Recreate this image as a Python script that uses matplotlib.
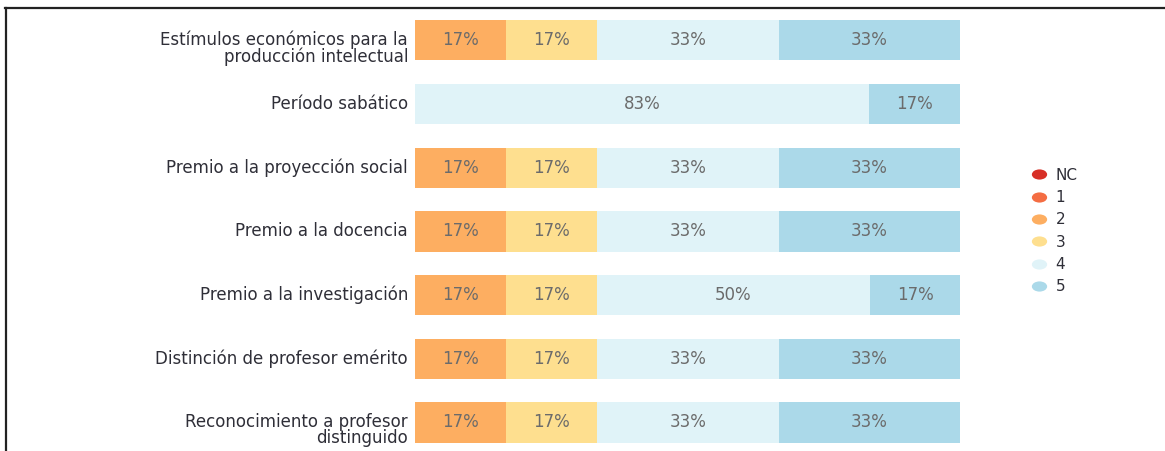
"""Stacked horizontal bars: share of responses per level, one bar per incentive."""
import matplotlib
matplotlib.use("Agg")
import matplotlib.pyplot as plt
from matplotlib.lines import Line2D
from matplotlib.path import Path

CATEGORIES = ["Estímulos económicos para la\nproducción intelectual",
              "Período sabático",
              "Premio a la proyección social",
              "Premio a la docencia",
              "Premio a la investigación",
              "Distinción de profesor emérito",
              "Reconocimiento a profesor\ndistinguido"]
LEVELS = ["NC", "1", "2", "3", "4", "5"]

# percent of answers per level, same order as CATEGORIES
NC = [0, 0, 0, 0, 0, 0, 0]
L1 = [0, 0, 0, 0, 0, 0, 0]
L2 = [16.7, 0, 16.7, 16.7, 16.7, 16.7, 16.7]
L3 = [16.7, 0, 16.7, 16.7, 16.7, 16.7, 16.7]
L4 = [33.3, 83.3, 33.3, 33.3, 50.0, 33.3, 33.3]
L5 = [33.3, 16.7, 33.3, 33.3, 16.7, 33.3, 33.3]

COLORS = ["#d73027", "#f46d43", "#fdae61", "#fedf8f", "#e0f3f8", "#abd9e9"]
FONT = 12
TXT = "#2f2f38"


def main():
    plt.rcParams["font.family"] = ["DejaVu Sans"]
    fig = plt.figure(figsize=(11.65, 4.51), dpi=100)
    ax = fig.add_axes([415 / 1165, -3.3 / 451, 545 / 1165, 445.7 / 451])

    rows = list(range(len(CATEGORIES)))
    left = [0.0] * len(rows)
    for vals, col in zip([NC, L1, L2, L3, L4, L5], COLORS):
        ax.barh(rows, vals, left=left, height=0.63, color=col, edgecolor="none")
        for r, v, l in zip(rows, vals, left):
            if v > 0:
                ax.text(l + v / 2, r, f"{v:.0f}%", ha="center", va="center",
                        fontsize=FONT, color="#6b6b6b")
        left = [a + b for a, b in zip(left, vals)]

    # category names: first line level with the bar, wrapped part hangs below
    ytf = ax.get_yaxis_transform()
    for r, name in zip(rows, CATEGORIES):
        if "\n" in name:
            ax.text(-0.0128, r - 0.15, name, transform=ytf, ha="right", va="top",
                    fontsize=FONT, color=TXT, linespacing=0.85)
        else:
            ax.text(-0.0128, r, name, transform=ytf, ha="right", va="center",
                    fontsize=FONT, color=TXT)

    ax.set_xlim(0, 100)
    ax.set_ylim(6.5, -0.5)
    ax.set_xticks([])
    ax.set_yticks([])
    for s in ax.spines.values():
        s.set_visible(False)

    # wide dot for the legend, like the stretched original
    circ = Path.unit_circle()
    dot = Path(circ.vertices * [1.5, 1.0], circ.codes)
    handles = [Line2D([], [], ls="none", marker=dot, markersize=11,
                      markerfacecolor=c, markeredgecolor="none") for c in COLORS]
    leg = fig.legend(handles, LEVELS, loc="upper left",
                     bbox_to_anchor=(1022 / 1165, 1 - 160 / 451),
                     frameon=False, fontsize=FONT - 1, handlelength=1.2,
                     handletextpad=0.5, labelspacing=0.48, borderpad=0)
    for t in leg.get_texts():
        t.set_color(TXT)

    # frame of the screenshot
    fig.add_artist(Line2D([5 / 1165, 1], [1 - 8 / 451] * 2, color="#222222", lw=1.6))
    fig.add_artist(Line2D([5.5 / 1165] * 2, [0, 1 - 8 / 451], color="#222222", lw=1.6))

    fig.savefig("out.png", dpi=100)


if __name__ == "__main__":
    main()
